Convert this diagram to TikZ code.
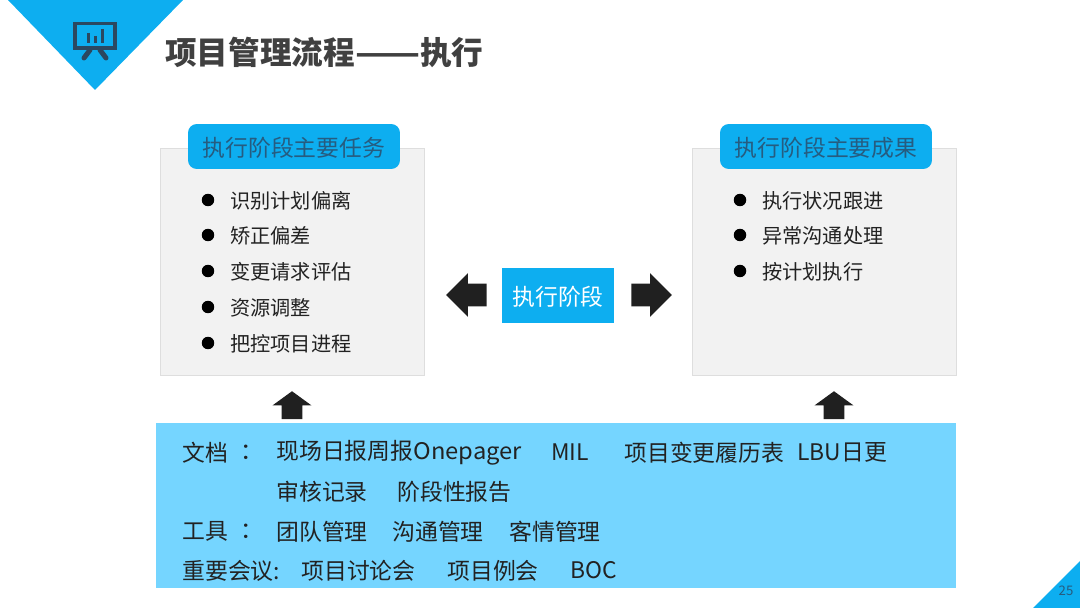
\documentclass[tikz,border=0pt]{standalone}
\usepackage{fontspec}
\setmainfont{Noto Sans CJK SC}
\usepackage{xcolor}
\usetikzlibrary{shapes.arrows}
\definecolor{skyblue}{RGB}{13,174,240}
\definecolor{paleblue}{RGB}{117,213,255}
\definecolor{panelgray}{RGB}{242,242,242}
\definecolor{panelline}{RGB}{222,222,222}
\definecolor{inkblue}{RGB}{38,92,128}
\definecolor{icondark}{RGB}{43,72,96}
\definecolor{titlegray}{RGB}{64,64,64}
\definecolor{arrowblack}{RGB}{32,32,32}
\definecolor{textdark}{RGB}{34,34,34}

\begin{document}
\begin{tikzpicture}[
  x=0.02cm,y=-0.02cm,
  panel/.style={rectangle,draw=panelline,fill=panelgray,minimum width=5.28cm,minimum height=4.54cm},
  head/.style={rectangle,rounded corners=5pt,fill=skyblue,text=inkblue,minimum width=4.24cm,minimum height=0.9cm,text depth=0pt,font=\fontsize{13}{15}\selectfont},
  stage/.style={rectangle,fill=skyblue,text=white,minimum width=2.24cm,minimum height=1.1cm,text depth=0pt,font=\fontsize{13}{15}\selectfont},
  band/.style={rectangle,fill=paleblue,minimum width=16cm,minimum height=3.3cm},
  dot/.style={circle,fill=black,inner sep=0pt,minimum size=0.25cm},
  item/.style={anchor=west,inner sep=0pt,yshift=-0.025cm,text=textdark,font=\fontsize{11.5}{14}\selectfont},
  info/.style={anchor=west,inner sep=0pt,yshift=-0.01cm,text=textdark,font=\fontsize{13}{15}\selectfont},
  sidearr/.style={single arrow,fill=arrowblack,inner sep=0pt,inner ysep=0.22cm,minimum height=0.81cm,minimum width=0.86cm,single arrow head extend=0.21cm},
  uparr/.style={single arrow,fill=arrowblack,inner sep=0pt,inner xsep=0.2cm,minimum height=0.56cm,minimum width=0.76cm,single arrow head extend=0.18cm,single arrow tip angle=108,shape border rotate=90}
]
\useasboundingbox (0,0) rectangle (1080,608);
\fill[skyblue] (8,0) -- (183,0) -- (95,90) -- cycle;
\fill[skyblue] (1033,608) -- (1080,561) -- (1080,608) -- cycle;
\draw[icondark,line width=0.07cm] (75,23.5) rectangle (115,48);
\draw[icondark,line width=0.1cm,line cap=round] (90,50) -- (84,58);
\draw[icondark,line width=0.1cm,line cap=round] (100,50) -- (106,58);
\draw[icondark,line width=0.06cm] (88,33) -- (88,43);
\draw[icondark,line width=0.06cm] (95,36) -- (95,43);
\draw[icondark,line width=0.06cm] (102,29) -- (102,43);
\node[anchor=west,inner sep=0pt,text=titlegray,font=\fontsize{18}{22}\selectfont\bfseries] (title) at (165,52) {项目管理流程\scalebox{1.2}[1]{——}执行};
\node[text=inkblue,inner sep=0pt,font=\fontsize{7.5}{9}\selectfont] (page) at (1066,591) {25};

\node[panel] (taskbox) at (292.5,262) {};
\node[panel] (resultbox) at (824,262) {};
\node[head] (taskhead) at (294,146.5) {执行阶段主要任务};
\node[head] (resulthead) at (826,146.5) {执行阶段主要成果};
\node[dot] (t1) at (208,200) {};
\node[dot] (t2) at (208,235) {};
\node[dot] (t3) at (208,271) {};
\node[dot] (t4) at (208,307) {};
\node[dot] (t5) at (208,343) {};
\node[item] (tl1) at (230,200) {识别计划偏离};
\node[item] (tl2) at (230,235) {矫正偏差};
\node[item] (tl3) at (230,271) {变更请求评估};
\node[item] (tl4) at (230,307) {资源调整};
\node[item] (tl5) at (230,343) {把控项目进程};
\node[dot] (r1) at (740,200) {};
\node[dot] (r2) at (740,235) {};
\node[dot] (r3) at (740,271) {};
\node[item] (rl1) at (762,200) {执行状况跟进};
\node[item] (rl2) at (762,235) {异常沟通处理};
\node[item] (rl3) at (762,271) {按计划执行};

\node[stage] (stage) at (558,295.5) {执行阶段};
\node[sidearr,shape border rotate=180] (toleft) at (472,295) {};
\node[sidearr] (toright) at (646,295) {};
\node[uparr] (uptask) at (292,409) {};
\node[uparr] (upresult) at (834,409) {};

\node[band] (band) at (556,505.5) {};
\node[info] (doc) at (182,452) {文档};
\node[info] (doccol) at (240,452) {：};
\node[info] (d1) at (276,452) {现场日报周报\scalebox{1.04}[1]{Onepager}};
\node[info] (d2) at (551,452) {MIL};
\node[info] (d3) at (624,452) {项目变更履历表};
\node[info] (d4) at (797,452) {LBU日更};
\node[info] (d5) at (276,491) {审核记录};
\node[info] (d6) at (397,491) {阶段性报告};
\node[info] (tool) at (182,531) {工具};
\node[info] (toolcol) at (240,531) {：};
\node[info] (g1) at (276,531) {团队管理};
\node[info] (g2) at (392,531) {沟通管理};
\node[info] (g3) at (509,531) {客情管理};
\node[info] (meet) at (182,570) {重要会议:};
\node[info] (m1) at (301,570) {项目讨论会};
\node[info] (m2) at (447,570) {项目例会};
\node[info] (m3) at (570,570) {BOC};
\end{tikzpicture}
\end{document}
